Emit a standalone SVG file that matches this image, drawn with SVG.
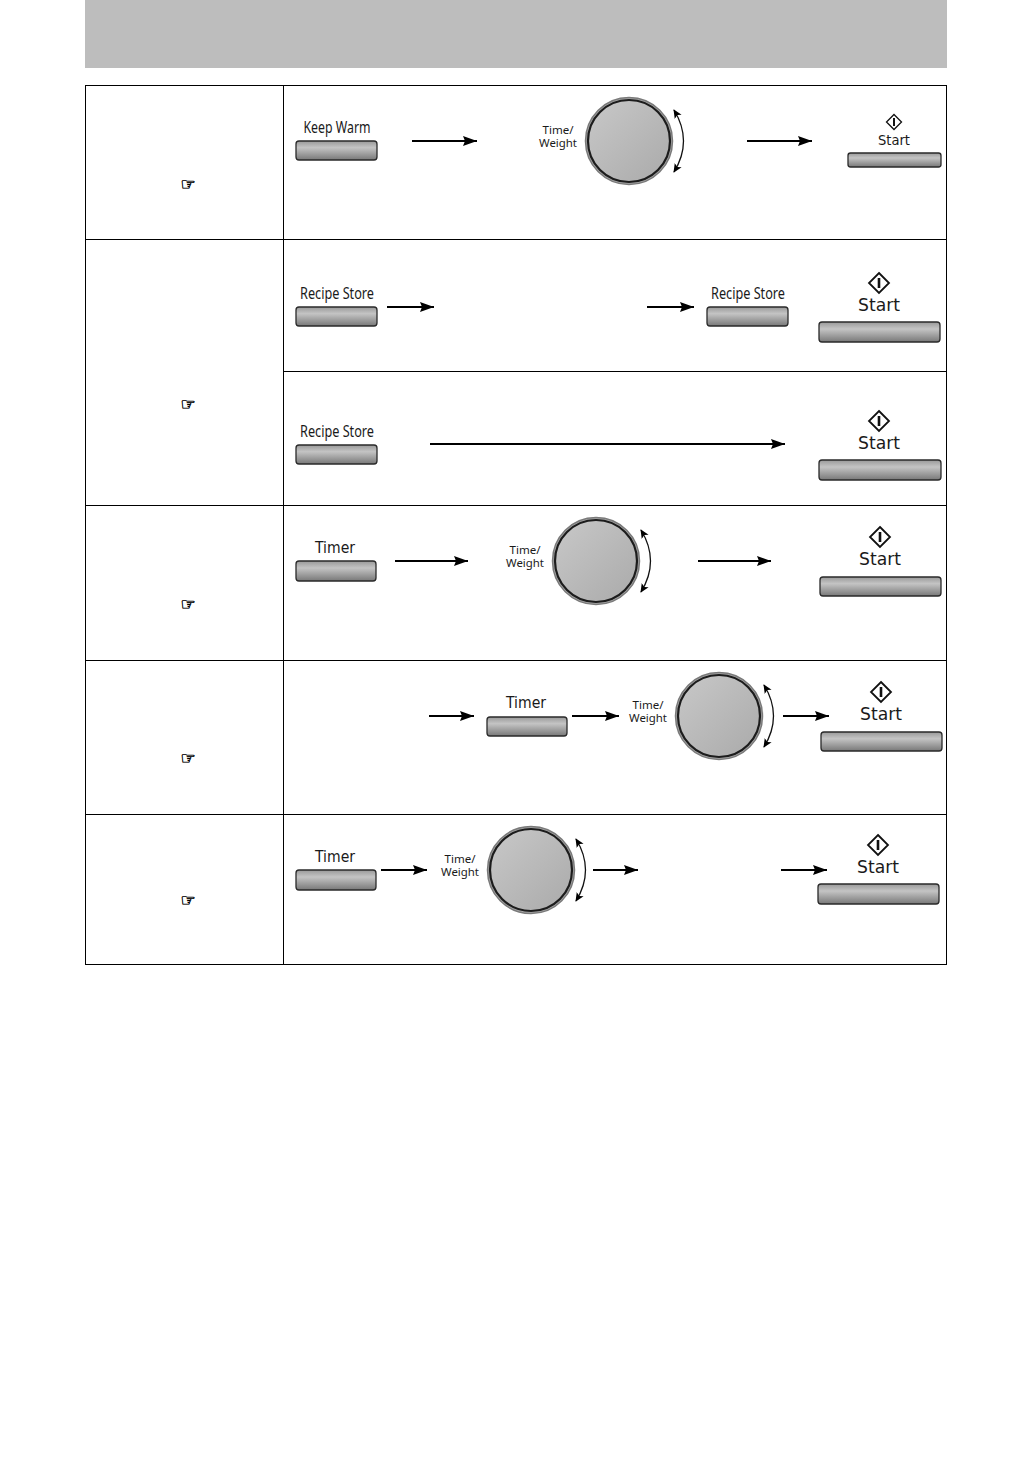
<svg xmlns="http://www.w3.org/2000/svg" width="1032" height="1457" viewBox="0 0 1032 1457">
<style>
.cell{fill:none;stroke:#000;stroke-width:1}
.arr{fill:none;stroke:#000;stroke-width:2.200;marker-end:url(#ah)}
.btn{stroke:#2a2a2a;stroke-width:1.3;fill:url(#bg)}
.lab{font-family:"Noto Sans","Liberation Sans",sans-serif;fill:#1a1a1a;text-anchor:middle}
.dj{font-family:"DejaVu Sans","Liberation Sans",sans-serif;fill:#1a1a1a;text-anchor:middle}
.tw{font-size:11.500px}
.hand{font-family:"DejaVu Sans",sans-serif;font-size:17px;fill:#000;stroke:#000;stroke-width:.5;text-anchor:middle}
</style>
<defs>
<linearGradient id="bg" x1="0" y1="0" x2="0" y2="1">
<stop offset="0" stop-color="#999"/><stop offset="0.35" stop-color="#c4c4c4"/><stop offset="1" stop-color="#787878"/>
</linearGradient>
<linearGradient id="dg" x1="0" y1="0" x2="1" y2="1">
<stop offset="0" stop-color="#c8c8c8"/><stop offset="1" stop-color="#aaa"/>
</linearGradient>
<marker id="ah" markerUnits="userSpaceOnUse" markerWidth="15" markerHeight="12" refX="14" refY="6" orient="auto"><path d="M0,1L14,6L0,11L2,6Z" fill="#000"/></marker>
<marker id="sm" markerUnits="userSpaceOnUse" markerWidth="10" markerHeight="10" refX="8" refY="5" orient="auto-start-reverse"><path d="M0,1L9,5L0,9L2,5Z" fill="#000"/></marker>
<g id="dial">
<circle r="43.500" fill="#a8a8a8" stroke="#7a7a7a" stroke-width="1.500"/>
<circle r="41" fill="url(#dg)" stroke="#1c1c1c" stroke-width="2.200"/>
<path d="M45,-31Q64,0 45,31" fill="none" stroke="#111" stroke-width="1.300" marker-start="url(#sm)" marker-end="url(#sm)"/>
</g>
<g id="diamond">
<path d="M0,-10L10,0L0,10L-10,0Z" fill="#fff" stroke="#111" stroke-width="1.800"/>
<rect x="-1.300" y="-5" width="2.600" height="10" fill="#111"/>
</g>
<g id="diamondS">
<path d="M0,-7.500L7.500,0L0,7.500L-7.500,0Z" fill="#fff" stroke="#111" stroke-width="1.300"/>
<rect x="-1" y="-4" width="2" height="8" fill="#111"/>
</g>
</defs>
<rect width="1032" height="1457" fill="#fff"/>
<rect id="header" x="85" y="0" width="862" height="68" fill="#bdbdbd"/>
<g id="table">
<rect class="cell" x="85.500" y="85.500" width="861" height="879"/>
<path class="cell" d="M283.500,85.500V964.500M85.500,239.500H946.500M283.500,371.500H946.500M85.500,505.500H946.500M85.500,660.500H946.500M85.500,814.500H946.500"/>
<text class="hand" x="188" y="190">☞</text>
<text class="hand" x="188" y="410">☞</text>
<text class="hand" x="188" y="610">☞</text>
<text class="hand" x="188" y="764">☞</text>
<text class="hand" x="188" y="906">☞</text>
</g>
<g id="connectors">
<path class="arr" d="M412,141H477"/><path class="arr" d="M747,141H812"/>
<path class="arr" d="M387,307H434"/><path class="arr" d="M647,307H694"/>
<path class="arr" d="M430,444H785"/>
<path class="arr" d="M395,561H468"/><path class="arr" d="M698,561H771"/>
<path class="arr" d="M429,716H474"/><path class="arr" d="M572,716H619"/><path class="arr" d="M783,716H829"/>
<path class="arr" d="M381,870H427"/><path class="arr" d="M593,870H638"/><path class="arr" d="M781,870H827"/>
</g>
<g id="keepwarm"><text class="lab" x="337" y="133" font-size="16" textLength="67" lengthAdjust="spacingAndGlyphs">Keep Warm</text><rect class="btn" x="296" y="141" width="81" height="19" rx="3"/></g>
<g id="dial1"><text class="lab tw" x="558" y="134" textLength="31" lengthAdjust="spacingAndGlyphs">Time/</text><text class="lab tw" x="558" y="147" textLength="38" lengthAdjust="spacingAndGlyphs">Weight</text><use href="#dial" x="629" y="141"/></g>
<g id="start1"><use href="#diamondS" x="894" y="122"/><text class="dj" x="894" y="145" font-size="14" textLength="32" lengthAdjust="spacingAndGlyphs">Start</text><rect class="btn" x="848" y="153" width="93" height="14" rx="2.500"/></g>
<g id="recipe1"><text class="lab" x="337" y="299" font-size="16" textLength="74" lengthAdjust="spacingAndGlyphs">Recipe Store</text><rect class="btn" x="296" y="307" width="81" height="19" rx="3"/></g>
<g id="recipe2"><text class="lab" x="748" y="299" font-size="16" textLength="74" lengthAdjust="spacingAndGlyphs">Recipe Store</text><rect class="btn" x="707" y="307" width="81" height="19" rx="3"/></g>
<g id="start2"><use href="#diamond" x="879" y="283"/><text class="dj" x="879" y="311" font-size="18" textLength="42" lengthAdjust="spacingAndGlyphs">Start</text><rect class="btn" x="819" y="322" width="121" height="20" rx="3"/></g>
<g id="recipe3"><text class="lab" x="337" y="437" font-size="16" textLength="74" lengthAdjust="spacingAndGlyphs">Recipe Store</text><rect class="btn" x="296" y="445" width="81" height="19" rx="3"/></g>
<g id="start3"><use href="#diamond" x="879" y="421"/><text class="dj" x="879" y="449" font-size="18" textLength="42" lengthAdjust="spacingAndGlyphs">Start</text><rect class="btn" x="819" y="460" width="122" height="20" rx="3"/></g>
<g id="timer1"><text class="dj" x="335" y="553" font-size="16" textLength="40" lengthAdjust="spacingAndGlyphs">Timer</text><rect class="btn" x="296" y="561" width="80" height="20" rx="3"/></g>
<g id="dial2"><text class="lab tw" x="525" y="554" textLength="31" lengthAdjust="spacingAndGlyphs">Time/</text><text class="lab tw" x="525" y="567" textLength="38" lengthAdjust="spacingAndGlyphs">Weight</text><use href="#dial" x="596" y="561"/></g>
<g id="start4"><use href="#diamond" x="880" y="537"/><text class="dj" x="880" y="565" font-size="18" textLength="42" lengthAdjust="spacingAndGlyphs">Start</text><rect class="btn" x="820" y="577" width="121" height="19" rx="3"/></g>
<g id="timer2"><text class="dj" x="526" y="708" font-size="16" textLength="40" lengthAdjust="spacingAndGlyphs">Timer</text><rect class="btn" x="487" y="717" width="80" height="19" rx="3"/></g>
<g id="dial3"><text class="lab tw" x="648" y="709" textLength="31" lengthAdjust="spacingAndGlyphs">Time/</text><text class="lab tw" x="648" y="722" textLength="38" lengthAdjust="spacingAndGlyphs">Weight</text><use href="#dial" x="719" y="716"/></g>
<g id="start5"><use href="#diamond" x="881" y="692"/><text class="dj" x="881" y="720" font-size="18" textLength="42" lengthAdjust="spacingAndGlyphs">Start</text><rect class="btn" x="821" y="732" width="121" height="19" rx="3"/></g>
<g id="timer3"><text class="dj" x="335" y="862" font-size="16" textLength="40" lengthAdjust="spacingAndGlyphs">Timer</text><rect class="btn" x="296" y="870" width="80" height="20" rx="3"/></g>
<g id="dial4"><text class="lab tw" x="460" y="863" textLength="31" lengthAdjust="spacingAndGlyphs">Time/</text><text class="lab tw" x="460" y="876" textLength="38" lengthAdjust="spacingAndGlyphs">Weight</text><use href="#dial" x="531" y="870"/></g>
<g id="start6"><use href="#diamond" x="878" y="845"/><text class="dj" x="878" y="873" font-size="18" textLength="42" lengthAdjust="spacingAndGlyphs">Start</text><rect class="btn" x="818" y="884" width="121" height="20" rx="3"/></g>
</svg>
